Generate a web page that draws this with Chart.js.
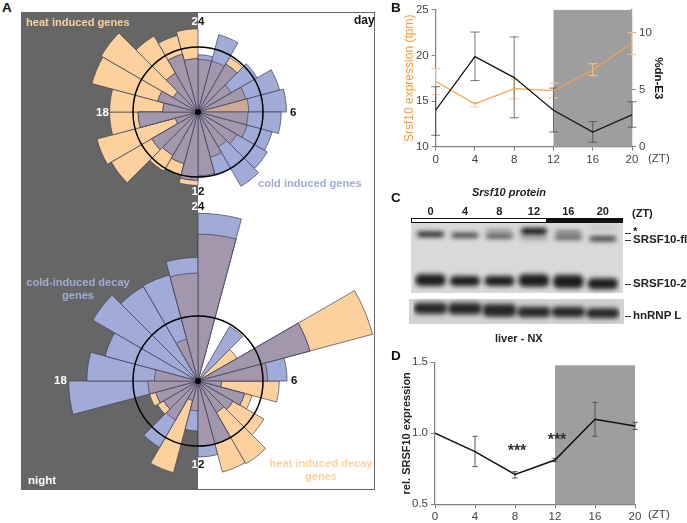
<!DOCTYPE html>
<html>
<head>
<meta charset="utf-8">
<script src="https://cdn.jsdelivr.net/npm/chart.js@4"></script>
<style>
html, body { margin: 0; padding: 0; background: #fff; }
#page { position: relative; width: 687px; height: 523px; overflow: hidden; font-family: "Liberation Sans", Arial, sans-serif; }
canvas { position: absolute; }
.t { position: absolute; white-space: nowrap; transform: translateY(-50%); font-weight: bold; font-size: 11.5px; line-height: 1; }
.a { font-size: 11.1px; }
.c { transform: translate(-50%, -50%); text-align: center; }
.big { font-size: 13.5px; color: #111; }
.zt { font-weight: normal; font-size: 11.5px; color: #444; }
#panelA { position: absolute; left: 21px; top: 12px; width: 354px; height: 478px; box-sizing: border-box; border: 1px solid #666; background: linear-gradient(90deg, #666 50%, #fff 50%); }
.box { position: absolute; }
</style>
</head>
<body>
<div id="page">
  <div id="panelA"></div>
  <canvas id="roseTop" width="260" height="260" style="left:68px;top:-18px"></canvas>
  <canvas id="roseBottom" width="390" height="390" style="left:3px;top:186px"></canvas>

  <div class="box" style="left:411px;top:222px;width:212px;height:71px;background:#d9d9d9"></div>
  <div class="box" style="left:409px;top:299px;width:215px;height:25px;background:#d2d2d2"></div>
  <div class="box" style="left:411px;top:218px;width:136px;height:5px;box-sizing:border-box;border:1px solid #111;background:#fff"></div>
  <div class="box" style="left:547px;top:218px;width:76px;height:5px;background:#111"></div>
  <div class="box" style="left:625px;top:233px;width:6px;height:1px;background:#333"></div>
  <div class="box" style="left:625px;top:240px;width:6px;height:1px;background:#333"></div>
  <div class="box" style="left:625px;top:284px;width:6px;height:1px;background:#333"></div>
  <div class="box" style="left:625px;top:316px;width:6px;height:1px;background:#333"></div>

  <canvas id="chartB" width="302" height="175" style="left:385px;top:0"></canvas>
  <canvas id="chartC" width="302" height="170" style="left:385px;top:180px"></canvas>
  <canvas id="chartD" width="302" height="178" style="left:385px;top:345px"></canvas>

  <span class="t big" style="left:2px;top:8px">A</span>
  <span class="t big" style="left:391px;top:8px">B</span>
  <span class="t big" style="left:391px;top:198px">C</span>
  <span class="t big" style="left:391px;top:356px">D</span>

  <span class="t a" style="left:26px;top:23px;color:#fdd19d">heat induced genes</span>
  <span class="t" style="left:354px;top:20px;color:#111;font-size:12px">day</span>
  <span class="t c" style="left:198px;top:22px;color:#111"><span style="color:#fff">2</span>4</span>
  <span class="t" style="left:96px;top:113px;color:#fff">18</span>
  <span class="t" style="left:290px;top:113px;color:#111">6</span>
  <span class="t c" style="left:198px;top:192px;color:#111"><span style="color:#fff">1</span>2</span>
  <span class="t a" style="left:258px;top:184px;color:#a1abd8">cold induced genes</span>

  <span class="t c" style="left:198px;top:207px;color:#111"><span style="color:#fff">2</span>4</span>
  <span class="t" style="left:54px;top:381px;color:#fff">18</span>
  <span class="t" style="left:291px;top:381px;color:#111">6</span>
  <span class="t c" style="left:198px;top:465px;color:#111"><span style="color:#fff">1</span>2</span>
  <span class="t a c" style="left:78px;top:289px;color:#a1abd8;line-height:13px">cold-induced decay<br>genes</span>
  <span class="t a c" style="left:321px;top:470px;color:#fdd19d;line-height:13px">heat induced decay<br>genes</span>
  <span class="t" style="left:28px;top:481px;color:#fff">night</span>

  <span class="t zt" style="left:648px;top:159px">(ZT)</span>
  <span class="t zt" style="left:648px;top:515px">(ZT)</span>

  <span class="t" style="left:472px;top:192px;color:#222;font-size:11px;font-style:italic">Srsf10 protein</span>
  <span class="t" style="left:632px;top:213px;color:#222;font-size:11px">(ZT)</span>
  <span class="t" style="left:633px;top:232px;color:#222">*</span>
  <span class="t" style="left:633px;top:240px;color:#222">SRSF10-fl</span>
  <span class="t" style="left:633px;top:284px;color:#222">SRSF10-2</span>
  <span class="t" style="left:633px;top:316px;color:#222">hnRNP L</span>
  <span class="t" style="left:495px;top:338px;color:#222;font-size:11px">liver - NX</span>

  <span class="t c" style="left:517px;top:451px;color:#333;font-size:16px">***</span>
  <span class="t c" style="left:557px;top:440px;color:#333;font-size:16px">***</span>
</div>

<script>
// panel A: wedges per ZT hour, in units where the black circle is 10
var hours = ['0', '1', '2', '3', '4', '5', '6', '7', '8', '9', '10', '11', '12', '13', '14', '15', '16', '17', '18', '19', '20', '21', '22', '23'];
var coldInduced = [8.8, 12.3, 8.5, 10.5, 13.0, 13.6, 12.8, 11.8, 12.3, 13.2, 10.0, 10.0, 10.5, 8.2, 7.7, 8.2, 3.6, 9.2, 5.4, 6.4, 4.4, 6.9, 9.2, 8.2];
var heatInduced = [8.1, 8.1, 9.7, 5.9, 7.6, 7.8, 7.7, 7.8, 6.9, 6.2, 7.2, 9.8, 11.3, 10.1, 10.5, 15.4, 16.1, 13.6, 13.6, 16.9, 17.2, 13.5, 12.2, 12.8];
var coldDecay = [25.8, 0, 9.7, 0.5, 17.8, 13.7, 3.6, 7.4, 6.2, 5.6, 10.0, 11.7, 7.7, 3.1, 11.8, 6.1, 6.7, 19.9, 17.1, 14.8, 18.7, 16.8, 16.9, 19.0];
var heatDecay = [22.6, 0, 0.5, 6.9, 27.8, 10.7, 12.5, 8.6, 11.7, 14.7, 14.5, 10.1, 4.6, 14.6, 6.9, 7.2, 7.7, 7.7, 6.7, 1.0, 0.8, 0.8, 6.7, 16.6];

// panels B and D
var zt = [0, 4, 8, 12, 16, 20];
var dnE3Ticks = [0, 5, 10];
var srsf10Tpm = [17.14, 14.7, 16.36, 16.14, 18.4, 21.36];
var srsf10TpmHigh = [18.57, 14.82, 17.43, 16.96, 19.1, 22.5];
var srsf10TpmLow = [15.71, 14.36, 15.25, 15.36, 17.8, 20.1];
var dnE3 = [3.2, 7.9, 6.06, 3.2, 1.29, 2.8];
var dnE3High = [5.26, 10.06, 9.63, 5.14, 2.2, 3.94];
var dnE3Low = [1.0, 5.8, 2.54, 1.29, 0.4, 1.71];
var relSrsf10 = [1.0, 0.871, 0.711, 0.812, 1.099, 1.052];
var relSrsf10High = [null, 0.979, 0.73, 0.824, 1.218, 1.077];
var relSrsf10Low = [null, 0.765, 0.685, 0.8, 0.979, 1.026];

// panel C: bands as [from, to] on a 0-100 migration scale
var lanes = ['0', '4', '8', '12', '16', '20'];
var bandStar = [null, null, [7.5, 10.1], [5.9, 11.8], [8.5, 11.4], [4.2, 6.2]];
var bandFl = [[9.2, 14.1], [10.8, 15], [11.8, 15.7], [14.1, 16.7], [13.4, 16.7], [14.1, 18]];
var band2 = [[51, 62.4], [52.6, 62.4], [52.6, 62.4], [51, 63.1], [51.6, 64.7], [54.9, 65.7]];
var bandL = [[78.8, 89.9], [78.8, 90.5], [80, 92.5], [82.7, 93.1], [82.7, 93.1], [84.3, 94.1]];

var inkColor = '#444';
var axisColor = '#7f7f7f';
var tickFont = { family: 'Liberation Sans', size: 11.5 };

function roseChart(id, cold, heat, max, overlapColors) {
    var overlap = cold.map(function (v, i) { return Math.min(v, heat[i]); });
    return new Chart(document.getElementById(id), {
        type: 'polarArea',
        data: {
            labels: hours,
            datasets: [
                { data: overlap, backgroundColor: overlapColors, borderColor: '#3f3f52', borderWidth: 0.7 },
                { data: cold, backgroundColor: '#a1abd8', borderColor: '#3f3f52', borderWidth: 0.7 },
                { data: heat, backgroundColor: '#fdd19d', borderColor: '#3f3f52', borderWidth: 0.7 }
            ]
        },
        options: {
            responsive: false,
            animation: false,
            plugins: { legend: { display: false }, tooltip: { enabled: false } },
            scales: {
                r: {
                    min: 0,
                    max: max,
                    ticks: { display: false, stepSize: 10 },
                    angleLines: { display: false },
                    grid: {
                        z: 1,
                        circular: true,
                        color: function (c) { return c.tick.value === 10 ? '#000' : 'transparent'; },
                        lineWidth: function (c) { return c.tick.value === 10 ? 1.5 : 0; }
                    }
                }
            }
        },
        plugins: [{
            id: 'hub',
            afterDatasetsDraw: function (chart) {
                var r = chart.scales.r, ctx = chart.ctx;
                ctx.save();
                ctx.fillStyle = '#000';
                ctx.beginPath();
                ctx.arc(r.xCenter, r.yCenter, 3, 0, Math.PI * 2);
                ctx.fill();
                ctx.restore();
            }
        }]
    });
}

// the hour 5 wedge of the top rose has a browner overlap
roseChart('roseTop', coldInduced, heatInduced, 20, hours.map(function (h) { return h === '5' ? '#cfaa92' : '#a397ae'; }));
roseChart('roseBottom', coldDecay, heatDecay, 30, '#a397ae');

function points(values) {
    return zt.map(function (x, i) { return { x: x, y: values[i] }; });
}

// grey night band and error bars go under the lines
function underlay(bandTop, errors, capHalf) {
    return {
        id: 'underlay',
        beforeDatasetsDraw: function (chart) {
            var ctx = chart.ctx, xs = chart.scales.x, ys = chart.scales.y, a = chart.chartArea;
            var top = bandTop === null ? a.top : ys.getPixelForValue(bandTop);
            ctx.save();
            ctx.fillStyle = '#9e9e9e';
            ctx.fillRect(xs.getPixelForValue(12), top, xs.getPixelForValue(20) - xs.getPixelForValue(12), a.bottom - top);
            errors.forEach(function (e) {
                var scale = chart.scales[e.axis];
                ctx.strokeStyle = e.color;
                ctx.lineWidth = 1;
                zt.forEach(function (x, i) {
                    if (e.high[i] === null) return;
                    var px = xs.getPixelForValue(x);
                    var hi = scale.getPixelForValue(e.high[i]);
                    var lo = scale.getPixelForValue(e.low[i]);
                    ctx.beginPath();
                    ctx.moveTo(px, hi);
                    ctx.lineTo(px, lo);
                    ctx.moveTo(px - capHalf, hi);
                    ctx.lineTo(px + capHalf, hi);
                    ctx.moveTo(px - capHalf, lo);
                    ctx.lineTo(px + capHalf, lo);
                    ctx.stroke();
                });
            });
            ctx.restore();
        }
    };
}

function xAxis(height) {
    return {
        type: 'linear',
        min: 0,
        max: 20,
        afterBuildTicks: function (s) { s.ticks = zt.map(function (v) { return { value: v }; }); },
        grid: { drawOnChartArea: false, color: axisColor, tickLength: 4 },
        border: { color: axisColor, width: 1.2 },
        ticks: { color: inkColor, font: tickFont, padding: 2, maxRotation: 0 },
        afterFit: function (s) { s.height = height; }
    };
}

new Chart(document.getElementById('chartB'), {
    type: 'line',
    data: {
        datasets: [
            { data: points(dnE3), yAxisID: 'y1', borderColor: '#111', borderWidth: 1.2, pointRadius: 0, tension: 0 },
            { data: points(srsf10Tpm), yAxisID: 'y', borderColor: '#f5a34f', borderWidth: 1.2, pointRadius: 0, tension: 0 }
        ]
    },
    options: {
        responsive: false,
        animation: false,
        layout: { padding: { top: 7 } },
        plugins: { legend: { display: false }, tooltip: { enabled: false } },
        scales: {
            x: xAxis(28.3),
            y: {
                min: 10,
                max: 25,
                ticks: { stepSize: 5, color: inkColor, font: tickFont, padding: 3 },
                grid: { drawOnChartArea: false, color: axisColor, tickLength: 4 },
                border: { color: axisColor, width: 1.2 },
                title: { display: true, text: 'Srsf10 expression (tpm)', color: '#f39c3e', font: { family: 'Liberation Sans', size: 12 }, padding: 17 },
                afterFit: function (s) { s.width = 50.7; }
            },
            y1: {
                position: 'right',
                min: 0,
                max: 12,
                afterBuildTicks: function (s) { s.ticks = dnE3Ticks.map(function (v) { return { value: v }; }); },
                ticks: { color: inkColor, font: tickFont, padding: 3 },
                grid: { drawOnChartArea: false, color: axisColor, tickLength: 4 },
                border: { color: axisColor, width: 1.2 },
                title: { display: true, text: '%dn-E3', color: '#111', font: { family: 'Liberation Sans', size: 11.5, weight: 'bold' }, padding: 22 },
                afterFit: function (s) { s.width = 55; }
            }
        }
    },
    plugins: [underlay(null, [
        { axis: 'y', high: srsf10TpmHigh, low: srsf10TpmLow, color: '#f6c792' },
        { axis: 'y1', high: dnE3High, low: dnE3Low, color: 'rgba(60,60,60,0.7)' }
    ], 4.5)]
});

new Chart(document.getElementById('chartD'), {
    type: 'line',
    data: {
        datasets: [
            { data: points(relSrsf10), borderColor: '#111', borderWidth: 1.5, pointRadius: 0, tension: 0 }
        ]
    },
    options: {
        responsive: false,
        animation: false,
        layout: { padding: { top: 17.3, right: 52 } },
        plugins: { legend: { display: false }, tooltip: { enabled: false } },
        scales: {
            x: xAxis(18.7),
            y: {
                min: 0.5,
                max: 1.5,
                ticks: { stepSize: 0.5, color: inkColor, font: tickFont, padding: 3, callback: function (v) { return v.toFixed(1); } },
                grid: { drawOnChartArea: false, color: axisColor, tickLength: 4 },
                border: { color: axisColor, width: 1.2 },
                title: { display: true, text: 'rel. SRSF10 expression', color: '#222', font: { family: 'Liberation Sans', size: 11, weight: 'bold' }, padding: 15 },
                afterFit: function (s) { s.width = 50; }
            }
        }
    },
    plugins: [underlay(1.479, [
        { axis: 'y', high: relSrsf10High, low: relSrsf10Low, color: '#555' }
    ], 2.7)]
});

// panel C: the blot, floating bars softened with a blur
function band(values, color, width) {
    return { data: values, backgroundColor: color, grouped: false, barPercentage: width, categoryPercentage: 1, borderRadius: 5, borderSkipped: false };
}

new Chart(document.getElementById('chartC'), {
    type: 'bar',
    data: {
        labels: lanes,
        datasets: [
            band(bandStar, ['#555', '#555', '#666', '#000', '#444', '#aaa'], 0.75),
            band(bandFl, ['#111', '#222', '#333', '#777', '#222', '#111'], 0.78),
            band(band2, '#1c1c1c', 0.88),
            band(bandL, '#262626', 0.98)
        ]
    },
    options: {
        responsive: false,
        animation: false,
        layout: { padding: { left: 28.3, right: 67, bottom: 25.7 } },
        plugins: { legend: { display: false }, tooltip: { enabled: false } },
        scales: {
            x: {
                position: 'top',
                grid: { display: false, drawTicks: false },
                border: { display: false },
                ticks: { color: '#222', font: { family: 'Liberation Sans', size: 11, weight: 'bold' }, padding: 4, maxRotation: 0 },
                afterFit: function (s) { s.height = 42.3; }
            },
            y: { display: false, reverse: true, min: 0, max: 100 }
        }
    },
    plugins: [{
        id: 'blur',
        beforeDatasetsDraw: function (chart) { chart.ctx.filter = 'blur(2.4px)'; },
        afterDatasetsDraw: function (chart) { chart.ctx.filter = 'none'; }
    }]
});
</script>
</body>
</html>
